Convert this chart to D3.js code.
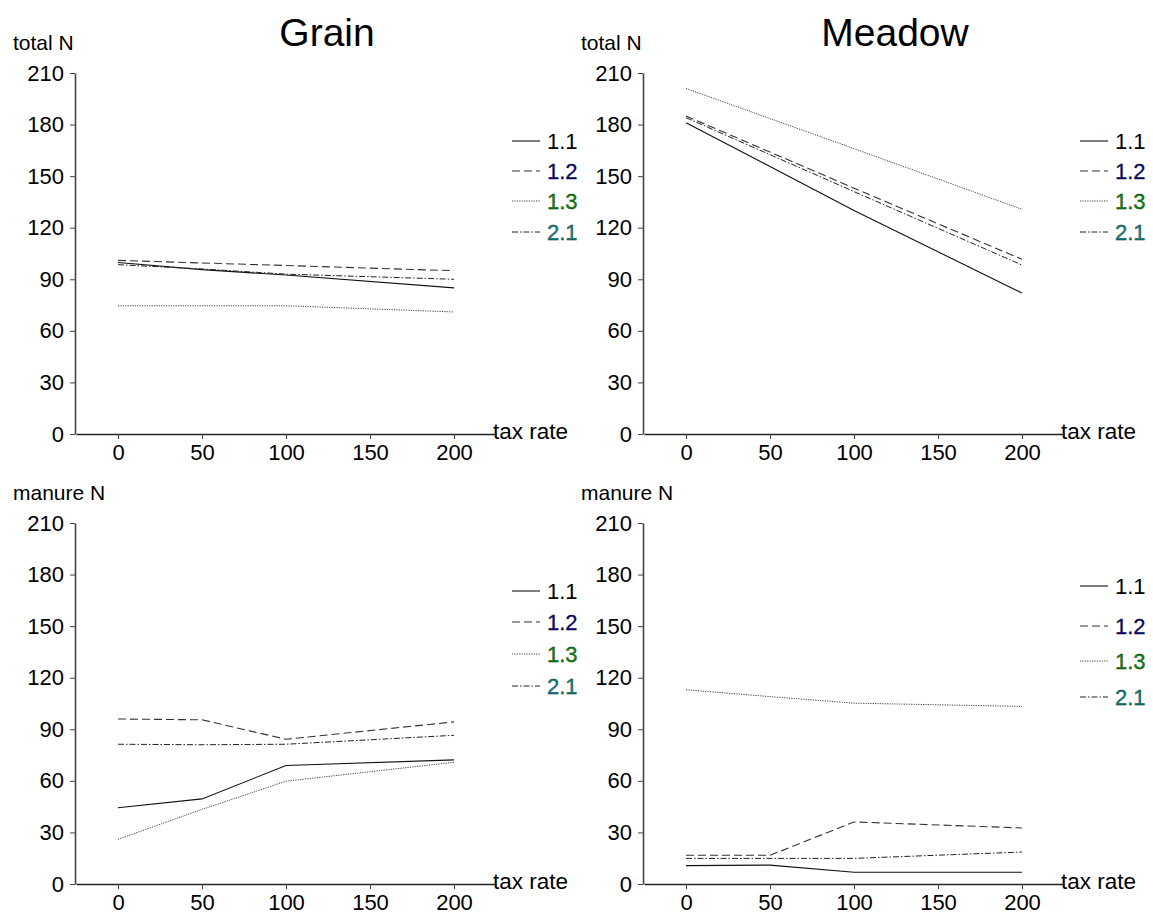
<!DOCTYPE html>
<html>
<head>
<meta charset="utf-8">
<script src="https://cdn.jsdelivr.net/npm/d3@7"></script>
<style>
  body { margin: 0; background: #fff; }
  svg text { font-family: "Liberation Sans", Arial, sans-serif; }
</style>
</head>
<body>
<div id="chart"></div>
<script>
// tax rates on the x axis
var taxRates = [0, 50, 100, 200];
var xTicks = [0, 50, 100, 150, 200];
var yTicks = [0, 30, 60, 90, 120, 150, 180, 210];
var seriesNames = ["1.1", "1.2", "1.3", "2.1"];

// Grain, total N
var grainTotal11 = [99.8, 95.6, 92.5, 85];
var grainTotal12 = [101, 99.5, 98, 95];
var grainTotal13 = [74.6, 74.6, 74.6, 71];
var grainTotal21 = [98.5, 96, 93, 90];

// Meadow, total N
var meadowTotal11 = [181, 155.6, 130, 82];
var meadowTotal12 = [185, 164, 143, 101.6];
var meadowTotal13 = [201, 183.5, 166, 130.7];
var meadowTotal21 = [184, 162.5, 141, 98.3];

// Grain, manure N
var grainManure11 = [44.4, 49.5, 68.9, 72.2];
var grainManure12 = [96, 95.5, 84.2, 94.3];
var grainManure13 = [26, 43.4, 59.8, 70.8];
var grainManure21 = [81.3, 81, 81.3, 86.5];

// Meadow, manure N
var meadowManure11 = [10.7, 11, 6.8, 6.8];
var meadowManure12 = [16.7, 16.7, 36.1, 32.6];
var meadowManure13 = [113, 109, 105.2, 103.3];
var meadowManure21 = [14.9, 14.9, 14.9, 18.6];

var lineStyles = [
  { dash: null, stroke: "#111", width: 1.1 },
  { dash: "8,4", stroke: "#333", width: 1.1 },
  { dash: "1.2,1.2", stroke: "#444", width: 1 },
  { dash: "6,2,1.5,2", stroke: "#222", width: 1 }
];
var labelColors = ["#000000", "#08087e", "#0a8a0a", "#0a8484"];

var svg = d3.select("#chart").append("svg")
  .attr("width", 1153).attr("height", 915);

var panels = [
  { ox: 0, oy: 0, ylabel: "total N", title: "Grain",
    series: [grainTotal11, grainTotal12, grainTotal13, grainTotal21],
    legendY: [141, 171, 201, 232] },
  { ox: 568, oy: 0, ylabel: "total N", title: "Meadow",
    series: [meadowTotal11, meadowTotal12, meadowTotal13, meadowTotal21],
    legendY: [141, 171, 201, 232] },
  { ox: 0, oy: 450, ylabel: "manure N", title: null,
    series: [grainManure11, grainManure12, grainManure13, grainManure21],
    legendY: [591, 622, 654, 686] },
  { ox: 568, oy: 450, ylabel: "manure N", title: null,
    series: [meadowManure11, meadowManure12, meadowManure13, meadowManure21],
    legendY: [586, 626, 661, 697] }
];

panels.forEach(function (p) {
  var x = d3.scaleLinear().domain([-25, 225]).range([76 + p.ox, 496 + p.ox]);
  var y = d3.scaleLinear().domain([0, 210]).range([434 + p.oy, 73 + p.oy]);

  var xAxis = svg.append("g")
    .attr("transform", "translate(0," + (434 + p.oy) + ")")
    .call(d3.axisBottom(x).tickValues(xTicks).tickSize(5).tickSizeOuter(0).tickPadding(5));
  xAxis.select(".domain").attr("stroke", "#222").attr("stroke-width", 1.6);
  xAxis.selectAll(".tick line").attr("stroke", "#444");
  xAxis.selectAll("text").attr("font-size", 22).attr("fill", "#000")
    .attr("font-family", "Liberation Sans, Arial, sans-serif");

  var yAxis = svg.append("g")
    .attr("transform", "translate(" + (75 + p.ox) + ",0)")
    .call(d3.axisLeft(y).tickValues(yTicks).tickSize(5).tickSizeOuter(0).tickPadding(6));
  yAxis.select(".domain").attr("stroke", "#444").attr("stroke-width", 1.6);
  yAxis.selectAll(".tick line").attr("stroke", "#444");
  yAxis.selectAll("text").attr("font-size", 22).attr("fill", "#000")
    .attr("font-family", "Liberation Sans, Arial, sans-serif");

  svg.append("text")
    .attr("x", 13 + p.ox).attr("y", 50 + p.oy)
    .attr("font-size", 21).text(p.ylabel);

  svg.append("text")
    .attr("x", 493 + p.ox).attr("y", 439 + p.oy)
    .attr("font-size", 22.5).text("tax rate");

  if (p.title) {
    svg.append("text")
      .attr("x", 327 + p.ox).attr("y", 46 + p.oy)
      .attr("text-anchor", "middle")
      .attr("font-size", 39).text(p.title);
  }

  var line = d3.line()
    .x(function (d, i) { return x(taxRates[i]); })
    .y(function (d) { return y(d); });

  p.series.forEach(function (vals, k) {
    var st = lineStyles[k];
    svg.append("path")
      .datum(vals)
      .attr("d", line)
      .attr("fill", "none")
      .attr("stroke", st.stroke)
      .attr("stroke-width", st.width)
      .attr("stroke-dasharray", st.dash);
  });

  // legend
  seriesNames.forEach(function (name, k) {
    var st = lineStyles[k];
    var ly = p.legendY[k];
    svg.append("line")
      .attr("x1", 512 + p.ox).attr("x2", 540 + p.ox)
      .attr("y1", ly).attr("y2", ly)
      .attr("stroke", st.stroke)
      .attr("stroke-width", st.width)
      .attr("stroke-dasharray", st.dash);
    svg.append("text")
      .attr("x", 547 + p.ox).attr("y", ly + 8)
      .attr("font-size", 22)
      .attr("fill", labelColors[k])
      .attr("stroke", k === 0 ? "none" : "#111")
      .attr("stroke-width", 0.3)
      .text(name);
  });
});
</script>
</body>
</html>
